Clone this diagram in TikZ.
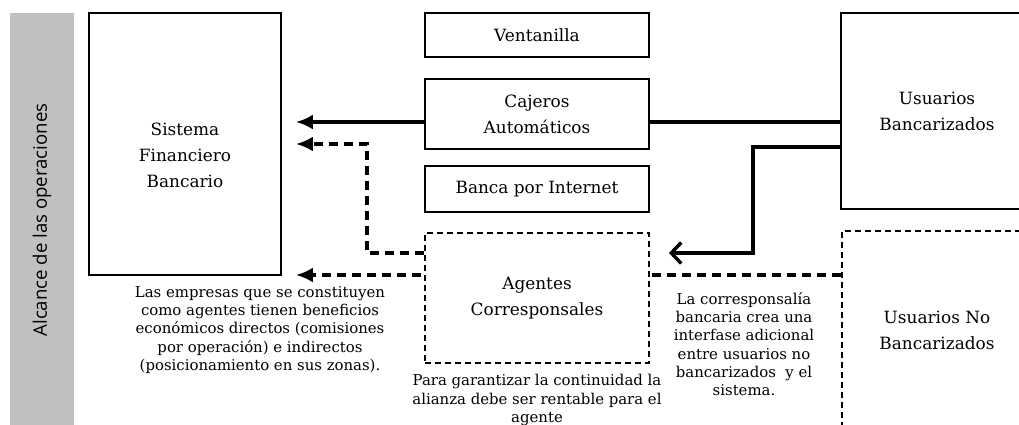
\documentclass[tikz,border=0pt]{standalone}
\usepackage{fontspec}
\setmainfont{DejaVu Serif}
\newfontfamily\barfont{Open Sans}
\usetikzlibrary{arrows.meta,backgrounds}
\definecolor{bargray}{RGB}{192,192,192}
\newcommand\bigtxt{\fontsize{16.9}{26}\selectfont}
\newcommand\smalltxt{\fontsize{14.9}{18.3}\selectfont}
\begin{document}
\begin{tikzpicture}[x=1pt,y=-1pt,
  box/.style={draw=black, line width=1.8pt, fill=white, inner sep=0pt, align=center, font=\bigtxt},
  dbox/.style={box, dash pattern=on 6pt off 4pt},
  txt/.style={align=center, font=\bigtxt, inner sep=0pt},
  note/.style={align=center, font=\smalltxt, inner sep=0pt},
  solidarrow/.style={line width=3.4pt, -{Latex[length=17pt,width=15pt]}},
  dasharrow/.style={solidarrow, dash pattern=on 9pt off 6pt},
  openarrow/.style={line width=3.4pt, -{Straight Barb[length=10pt,width=21pt]}}
]
\path[use as bounding box, clip] (0,0) rectangle (1019,425);

% side bar
\node[fill=bargray, minimum width=64pt, minimum height=412pt, inner sep=0pt] (bar) at (42,219) {};
\node[rotate=90, font=\barfont\fontsize{18.6}{22}\selectfont, inner sep=0pt] (bartext) at (42,220) {Alcance de las operaciones};

% boxes
\node[box, minimum width=192pt, minimum height=262pt] (sistema) at (185,144) {};
\node[txt] (sistematext) at (185,155) {Sistema\\Financiero\\Bancario};

\node[box, minimum width=224pt, minimum height=44pt] (ventanilla) at (537,35) {Ventanilla};
\node[box, minimum width=224pt, minimum height=70pt] (cajeros) at (537,114) {Cajeros\\Automáticos};
\node[box, minimum width=224pt, minimum height=46pt] (banca) at (537,189) {Banca por Internet};
\node[dbox, minimum width=224pt, minimum height=130pt] (agentes) at (537,298) {Agentes\\Corresponsales};

\node[box, minimum width=192pt, minimum height=196pt] (usuB) at (937,111) {Usuarios\\Bancarizados};
\node[dbox, minimum width=190pt, minimum height=199pt] (usuN) at (937,330.5) {Usuarios No\\Bancarizados};

% notes
\node[note] (note1) at (260,330) {Las empresas que se constituyen\\como agentes tienen beneficios\\económicos directos (comisiones\\por operación) e indirectos\\(posicionamiento en sus zonas).};
\node[note] (note2) at (537,400) {Para garantizar la continuidad la\\alianza debe ser rentable para el\\agente};
\node[note] (note3) at (744,344) {La corresponsalía\\bancaria crea una\\interfase adicional\\entre usuarios no\\bancarizados~ y el\\sistema.};

% connectors
\coordinate (bend1) at (367,144);
\coordinate (bend2) at (753,253);
\begin{scope}[on background layer]
\draw[solidarrow, shorten >=14pt] (usuB.west |- 0,122) -- (sistema.east |- 0,122);
\draw[dasharrow, shorten >=14pt] (usuN.west |- 0,275) -- (sistema.east |- 0,275);
\end{scope}
\draw[dasharrow, shorten >=14pt] (agentes.west |- bend2) -| (bend1) -- (sistema.east |- bend1);
\draw[openarrow, shorten >=19pt] (usuB.west |- 0,147) -| (bend2) -- (agentes.east |- bend2);
\end{tikzpicture}
\end{document}
